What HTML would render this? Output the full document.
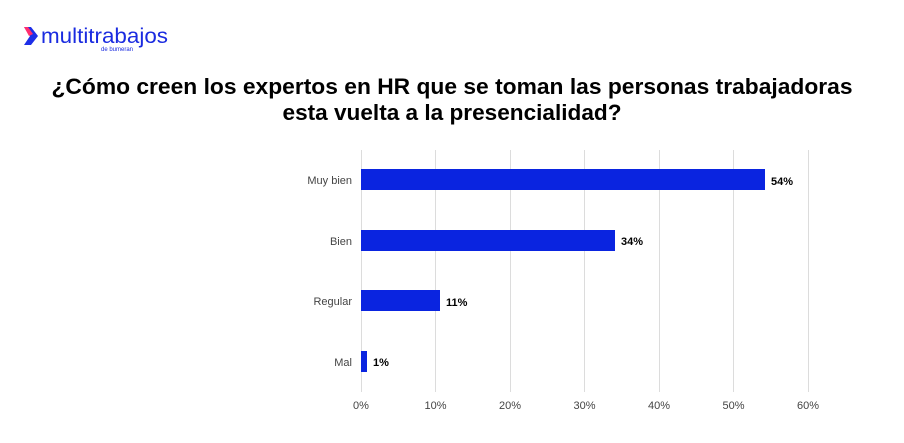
<!DOCTYPE html>
<html><head><meta charset="utf-8"><style>
body{margin:0;width:904px;height:438px;background:#fff;overflow:hidden;font-family:"Liberation Sans",sans-serif;}
</style></head><body>
<svg width="904" height="438" xmlns="http://www.w3.org/2000/svg" font-family="Liberation Sans, sans-serif">
<path d="M24 27 L31 27 L38 36 L31 45 L24 45 L30 36 Z" fill="#1d2ee8"/>
<path d="M24 27 L28 27 L33 34 L29 36 Z" fill="#ff2d6f"/>
<text x="41" y="43" font-size="21" fill="#1a2be0" textLength="127" lengthAdjust="spacingAndGlyphs">multitrabajos</text>
<text x="101" y="51" font-size="6" fill="#1a2be0">de bumeran</text>
<text x="452" y="94" font-size="22.5" font-weight="bold" text-anchor="middle" fill="#000" textLength="801" lengthAdjust="spacingAndGlyphs">¿Cómo creen los expertos en HR que se toman las personas trabajadoras</text>
<text x="452" y="120" font-size="22.5" font-weight="bold" text-anchor="middle" fill="#000" textLength="339" lengthAdjust="spacingAndGlyphs">esta vuelta a la presencialidad?</text>
<g stroke="#dcdcdc" stroke-width="1">
<line x1="361.5" y1="150" x2="361.5" y2="392"/>
<line x1="435.5" y1="150" x2="435.5" y2="392"/>
<line x1="510.5" y1="150" x2="510.5" y2="392"/>
<line x1="584.5" y1="150" x2="584.5" y2="392"/>
<line x1="659.5" y1="150" x2="659.5" y2="392"/>
<line x1="733.5" y1="150" x2="733.5" y2="392"/>
<line x1="808.5" y1="150" x2="808.5" y2="392"/>
</g>
<g fill="#0a24e0">
<rect x="361" y="169" width="404" height="21"/>
<rect x="361" y="230" width="254" height="21"/>
<rect x="361" y="290" width="79" height="21"/>
<rect x="361" y="351" width="6" height="21"/>
</g>
<g font-size="11" fill="#444" text-anchor="end">
<text x="352" y="184">Muy bien</text>
<text x="352" y="245">Bien</text>
<text x="352" y="305">Regular</text>
<text x="352" y="366">Mal</text>
</g>
<g font-size="11" font-weight="bold" fill="#000">
<text x="771" y="185">54%</text>
<text x="621" y="245">34%</text>
<text x="446" y="306">11%</text>
<text x="373" y="366">1%</text>
</g>
<g font-size="11" fill="#444" text-anchor="middle">
<text x="361" y="409">0%</text>
<text x="435.5" y="409">10%</text>
<text x="510" y="409">20%</text>
<text x="584.5" y="409">30%</text>
<text x="659" y="409">40%</text>
<text x="733.5" y="409">50%</text>
<text x="808" y="409">60%</text>
</g>
</svg>
</body></html>
